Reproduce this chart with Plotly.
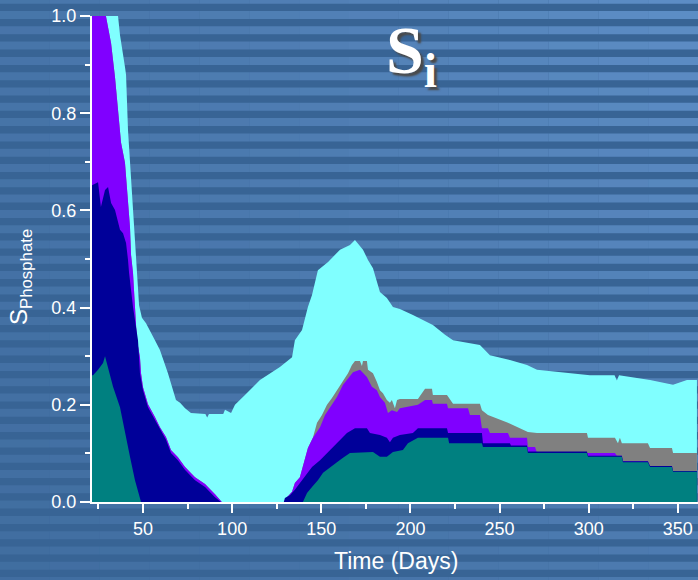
import plotly.graph_objects as go

# ---------------- data (cumulative layer tops) -------------
cyan_days = [21.4, 32.6, 36.0, 37.1, 39.9, 40.5, 41.6, 43.3, 45.0, 46.6, 47.8, 49.4, 51.7,
             56.7, 59.5, 64.0, 68.5, 70.8, 73.6, 76.9, 85.0, 86.0, 87.0, 95.0, 96.0, 99.4,
             101.6, 107.2, 115.6, 126.8, 133.6, 135.2, 139.2, 142.5, 144.8, 148.1, 153.8,
             160.5, 166.1, 168.9, 173.4, 176.2, 179.0, 182.9, 186.8, 190.2, 194.1, 201.4,
             212.6, 219.4, 223.9, 239.0, 244.6, 255.8, 265.4, 271.0, 300.7, 314.5, 315.8,
             317.0, 334.4, 347.3, 355.1, 360.7]
cyan_vals = [1.30, 1.10, 1.00, 0.961, 0.895, 0.879, 0.765, 0.663, 0.570, 0.477, 0.405, 0.379,
             0.368, 0.333, 0.313, 0.265, 0.210, 0.204, 0.193, 0.183, 0.181, 0.174, 0.181,
             0.181, 0.190, 0.183, 0.200, 0.220, 0.251, 0.278, 0.298, 0.333, 0.354, 0.401,
             0.426, 0.477, 0.494, 0.519, 0.529, 0.539, 0.519, 0.498, 0.481, 0.432, 0.420,
             0.401, 0.397, 0.385, 0.364, 0.344, 0.333, 0.323, 0.302, 0.292, 0.282, 0.272,
             0.261, 0.261, 0.250, 0.261, 0.251, 0.241, 0.251, 0.251]

gray_days = [21.4, 28.0, 29.2, 30.4, 32.1, 34.3, 36.0, 37.7, 39.9, 41.6, 42.7, 43.3, 44.4,
             45.5, 46.6, 48.3, 48.9, 50.0, 52.8, 56.7, 59.5, 62.9, 65.7, 69.6, 73.6, 79.2,
             84.8, 90.4, 94.2, 129.0, 130.8, 133.6, 135.2, 138.0, 139.7, 142.5, 145.3,
             147.6, 150.4, 153.2, 156.0, 158.8, 162.2, 165.0, 167.2, 168.9, 171.7, 172.8,
             173.4, 175.6, 176.2, 179.0, 181.2, 182.9, 184.6, 186.8, 188.5, 189.6, 191.3,
             192.5, 194.1, 204.2, 208.2, 212.1, 212.6, 220.5, 223.9, 239.0, 240.1, 243.5,
             254.7, 265.9, 271.0, 299.0, 299.6, 314.7, 316.4, 317.5, 318.6, 333.2, 334.4,
             346.7, 347.3, 360.7]
gray_vals = [1.25, 1.05, 1.00, 0.977, 0.944, 0.874, 0.807, 0.739, 0.698, 0.628, 0.566, 0.508,
             0.471, 0.401, 0.333, 0.298, 0.265, 0.236, 0.201, 0.175, 0.154, 0.134, 0.107,
             0.092, 0.072, 0.051, 0.037, 0.016, 0.0, 0.0, 0.010, 0.021, 0.039, 0.051, 0.072,
             0.111, 0.132, 0.163, 0.179, 0.200, 0.214, 0.230, 0.247, 0.265, 0.282, 0.290,
             0.290, 0.280, 0.290, 0.290, 0.272, 0.265, 0.247, 0.230, 0.224, 0.210, 0.204,
             0.210, 0.193, 0.210, 0.212, 0.212, 0.233, 0.233, 0.220, 0.220, 0.202, 0.202,
             0.189, 0.179, 0.163, 0.144, 0.142, 0.142, 0.132, 0.132, 0.121, 0.132, 0.121,
             0.121, 0.111, 0.111, 0.101, 0.101]

purple_days = [21.4, 28.0, 29.2, 30.4, 32.1, 34.3, 36.0, 37.7, 39.9, 41.6, 42.7, 43.3, 44.4,
               45.5, 46.6, 48.3, 48.9, 50.0, 52.8, 56.7, 59.5, 62.9, 65.7, 69.6, 73.6, 79.2,
               84.8, 90.4, 94.2, 129.0, 130.8, 133.6, 135.2, 138.0, 139.7, 142.5, 145.3,
               149.3, 152.1, 154.9, 158.8, 162.2, 165.0, 167.8, 171.7, 175.6, 178.4, 181.2,
               182.9, 185.7, 187.4, 189.6, 192.5, 194.1, 204.2, 208.2, 212.1, 212.6, 220.5,
               221.1, 232.3, 233.4, 239.0, 240.1, 243.5, 244.6, 254.7, 255.8, 265.4, 265.9,
               269.9, 271.0, 314.7, 315.8, 318.6, 319.2, 333.2, 334.4, 346.7, 347.3, 360.7]
purple_vals = [1.25, 1.05, 1.00, 0.977, 0.944, 0.874, 0.807, 0.739, 0.698, 0.628, 0.566, 0.508,
               0.471, 0.401, 0.333, 0.298, 0.265, 0.236, 0.201, 0.175, 0.154, 0.134, 0.107,
               0.092, 0.072, 0.051, 0.037, 0.016, 0.0, 0.0, 0.010, 0.021, 0.039, 0.051, 0.072,
               0.111, 0.132, 0.154, 0.179, 0.195, 0.216, 0.241, 0.255, 0.267, 0.272, 0.257,
               0.237, 0.230, 0.216, 0.204, 0.183, 0.189, 0.185, 0.193, 0.200, 0.210, 0.210,
               0.202, 0.202, 0.193, 0.193, 0.179, 0.179, 0.152, 0.152, 0.142, 0.142, 0.132,
               0.132, 0.113, 0.113, 0.101, 0.101, 0.095, 0.095, 0.084, 0.084, 0.074, 0.074,
               0.064, 0.064]

navy_days = [21.4, 24.8, 26.4, 28.7, 30.4, 32.1, 34.3, 37.1, 38.8, 40.5, 41.6, 42.2, 44.4,
             47.2, 48.3, 50.0, 52.8, 56.7, 59.5, 62.9, 65.7, 69.6, 73.6, 79.2, 84.8, 90.4,
             93.7, 129.0, 129.6, 132.4, 135.2, 139.2, 142.0, 144.8, 149.3, 153.2, 157.7,
             161.6, 164.4, 168.9, 175.6, 177.3, 182.9, 186.8, 188.5, 190.2, 194.1, 201.4,
             204.2, 220.5, 221.1, 240.1, 240.7, 255.8, 256.4, 265.4, 265.9, 299.0, 299.6,
             318.6, 319.2, 333.2, 334.4, 346.7, 347.3, 360.7]
navy_vals = [0.652, 0.658, 0.607, 0.642, 0.648, 0.615, 0.601, 0.560, 0.553, 0.533, 0.498,
             0.471, 0.401, 0.333, 0.265, 0.230, 0.195, 0.169, 0.148, 0.128, 0.101, 0.086,
             0.066, 0.045, 0.031, 0.010, 0.0, 0.0, 0.008, 0.014, 0.025, 0.045, 0.060, 0.072,
             0.086, 0.101, 0.117, 0.132, 0.142, 0.152, 0.152, 0.142, 0.138, 0.132, 0.123,
             0.132, 0.138, 0.142, 0.152, 0.152, 0.142, 0.142, 0.121, 0.121, 0.116, 0.116,
             0.104, 0.104, 0.095, 0.095, 0.084, 0.084, 0.074, 0.074, 0.064, 0.064]

teal_days = [21.4, 22.0, 24.8, 27.6, 28.7, 30.4, 33.2, 37.1, 39.9, 42.7, 45.5, 48.9, 139.7,
             142.0, 144.8, 148.1, 151.0, 154.9, 158.8, 162.2, 166.1, 179.0, 182.9, 186.8,
             190.2, 195.8, 198.6, 204.2, 221.1, 221.7, 240.1, 240.7, 265.4, 265.9, 299.0,
             299.6, 318.6, 319.2, 333.2, 334.4, 346.7, 347.3, 360.7]
teal_vals = [0.261, 0.261, 0.272, 0.286, 0.300, 0.278, 0.237, 0.195, 0.142, 0.093, 0.045, 0.0,
             0.0, 0.0185, 0.031, 0.045, 0.060, 0.072, 0.082, 0.091, 0.101, 0.103, 0.093,
             0.093, 0.103, 0.107, 0.121, 0.132, 0.132, 0.121, 0.121, 0.113, 0.113, 0.101,
             0.101, 0.093, 0.093, 0.082, 0.082, 0.072, 0.072, 0.062, 0.062]

layers = [
    ("cyan", cyan_days, cyan_vals, "#80ffff"),
    ("gray", gray_days, gray_vals, "#808080"),
    ("purple", purple_days, purple_vals, "#8000ff"),
    ("navy", navy_days, navy_vals, "#000099"),
    ("teal", teal_days, teal_vals, "#008080"),
]

x_ticks = [50, 100, 150, 200, 250, 300, 350]
y_ticks = [0.0, 0.2, 0.4, 0.6, 0.8, 1.0]

# ---------------- figure ----------------
fig = go.Figure()
for name, xs, ys, col in layers:
    fig.add_trace(go.Scatter(x=xs, y=ys, mode="lines", name=name,
                             line=dict(width=0, color=col), fill="tozeroy",
                             fillcolor=col, hoverinfo="skip", showlegend=False))

W, H = 698, 580
L, R, T, B = 92, 0, 16, 78
pw, ph = W - L - R, H - T - B


def px2paper_x(px):
    return (px - L) / pw


def px2paper_y(py):
    return (H - B - py) / ph


# striped background (horizontal bands, brighter towards the upper right)
shapes = []
period = 15.3
nseg = 14
seg_w = W / nseg
k = -1
while True:
    y0 = 11 + period * k
    if y0 > H:
        break
    y1 = y0 + 8
    vf = 1.0 - 0.45 * max(0.0, min(1.0, y0 / H))
    for i in range(nseg):
        xa, xb = i * seg_w, (i + 1) * seg_w
        hf = 0.40 + 0.60 * ((xa + xb) / 2 / W)
        shapes.append(dict(type="rect", xref="paper", yref="paper",
                           x0=px2paper_x(xa), x1=px2paper_x(xb),
                           y0=px2paper_y(y1), y1=px2paper_y(y0),
                           fillcolor="#5e8ec6", opacity=hf * vf,
                           line=dict(width=0), layer="below"))
    k += 1

fig.update_layout(
    width=W, height=H,
    margin=dict(l=L, r=R, t=T, b=B),
    paper_bgcolor="#386495",
    plot_bgcolor="rgba(0,0,0,0)",
    shapes=shapes,
    font=dict(family="Liberation Sans, Arial, sans-serif", color="white", size=18),
    xaxis=dict(range=[21.4, 361.3], showgrid=False, zeroline=False,
               showline=True, linecolor="white", linewidth=2,
               ticks="outside", tickcolor="white", ticklen=9, tickwidth=2,
               tickvals=x_ticks, tickfont=dict(size=18, color="white"),
               minor=dict(dtick=25, tick0=0, ticks="outside", ticklen=5,
                          tickcolor="white", tickwidth=2, showgrid=False)),
    yaxis=dict(range=[0, 1], showgrid=False, zeroline=False,
               showline=True, linecolor="white", linewidth=2,
               ticks="outside", tickcolor="white", ticklen=10, tickwidth=2,
               tickvals=y_ticks, tickformat=".1f", tickfont=dict(size=18, color="white"),
               minor=dict(dtick=0.1, tick0=0, ticks="outside", ticklen=5,
                          tickcolor="white", tickwidth=2, showgrid=False)),
    annotations=[
        dict(text="Time (Days)", xref="paper", yref="paper",
             x=px2paper_x(396), y=px2paper_y(561), xanchor="center", yanchor="middle",
             showarrow=False, font=dict(size=23, color="white")),
        dict(text="S<sub>Phosphate</sub>", xref="paper", yref="paper",
             x=px2paper_x(20), y=px2paper_y(277), xanchor="center", yanchor="middle",
             textangle=-90, showarrow=False, font=dict(size=24, color="white")),
        dict(text="<b>S<sub>i</sub></b>", xref="paper", yref="paper",
             x=px2paper_x(384), y=px2paper_y(10), xanchor="left", yanchor="top",
             showarrow=False,
             font=dict(family="Liberation Serif, Times New Roman, serif", size=68,
                       color="white", shadow="3px 3px 2px #4a4a4a")),
    ],
)

fig.write_html("out.html",
               config={"displayModeBar": False},
               post_script="document.body.style.margin='0';document.body.style.background='#386495';")
